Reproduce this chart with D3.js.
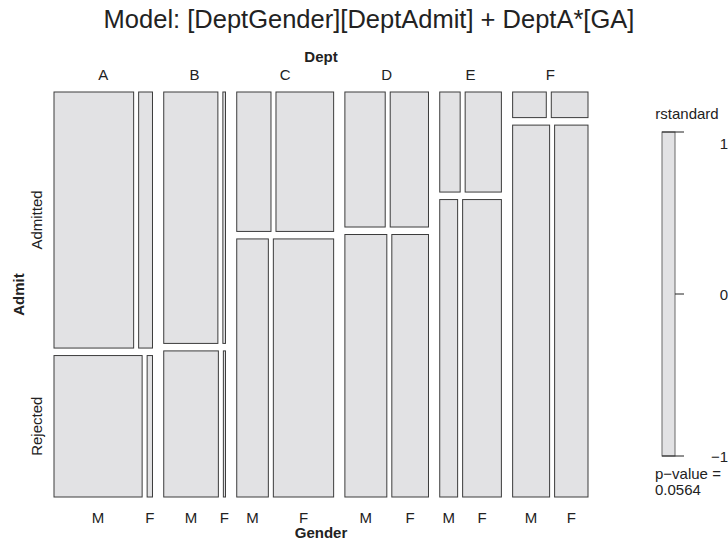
<!DOCTYPE html>
<html>
<head>
<meta charset="utf-8">
<script src="https://cdn.jsdelivr.net/npm/d3@7/dist/d3.min.js"></script>
<style>
  html, body { margin: 0; padding: 0; background: #fff; }
  svg text { font-family: "Liberation Sans", Arial, Helvetica, sans-serif; fill: #222; }
</style>
</head>
<body>
<svg id="chart" width="728" height="544"></svg>
<script>
// UC Berkeley admissions by department, admission status and gender
const depts = ["A", "B", "C", "D", "E", "F"];
const admitLevels = ["Admitted", "Rejected"];
const genders = ["M", "F"];
const admittedMale   = [512, 353, 120, 138, 53, 22];
const admittedFemale = [89, 17, 202, 131, 94, 24];
const rejectedMale   = [313, 207, 205, 279, 138, 351];
const rejectedFemale = [19, 8, 391, 244, 299, 317];
const legendTicks = [-1, 0, 1];
const legendTitle = "rstandard";
const pValueText = "0.0564";
const titleText = "Model: [DeptGender][DeptAdmit] + DeptA*[GA]";

const svg = d3.select("#chart");
const tileFill = "#e2e2e4";
const tileStroke = "#3c3c3c";

// panel geometry
const panelLeft = 54, panelRight = 588, panelTop = 92, panelBottom = 497;
const gapDept = 11.25, gapAdmit = 7.5, gapGender = 5;

const cells = depts.map((d, i) => ({
  dept: d,
  rows: [
    { admit: admitLevels[0], counts: [admittedMale[i], admittedFemale[i]] },
    { admit: admitLevels[1], counts: [rejectedMale[i], rejectedFemale[i]] }
  ]
}));
cells.forEach(c => {
  c.rows.forEach(r => r.total = d3.sum(r.counts));
  c.total = d3.sum(c.rows, r => r.total);
});
const grand = d3.sum(cells, c => c.total);

// first split: departments across the width
const xDept = d3.scaleLinear().domain([0, grand])
  .range([0, (panelRight - panelLeft) - gapDept * (depts.length - 1)]);
let cum = 0;
cells.forEach((c, i) => {
  c.x0 = panelLeft + xDept(cum) + i * gapDept;
  c.w = xDept(c.total) - xDept(0);
  cum += c.total;
});

const g = svg.append("g");

cells.forEach(c => {
  // second split: admission status down the height
  const yAdmit = d3.scaleLinear().domain([0, c.total])
    .range([panelTop, panelBottom - gapAdmit * (c.rows.length - 1)]);
  let cy = 0;
  c.rows.forEach((r, ri) => {
    r.y0 = yAdmit(cy) + ri * gapAdmit;
    r.h = yAdmit(cy + r.total) - yAdmit(cy);
    cy += r.total;
    // third split: gender across each row
    const xG = d3.scaleLinear().domain([0, r.total])
      .range([c.x0, c.x0 + c.w - gapGender * (r.counts.length - 1)]);
    let cx = 0;
    r.tiles = r.counts.map((n, gi) => {
      const t = { gender: genders[gi], x: xG(cx) + gi * gapGender, w: xG(cx + n) - xG(cx), y: r.y0, h: r.h };
      cx += n;
      return t;
    });
    g.selectAll(null).data(r.tiles).enter().append("rect")
      .attr("x", t => t.x).attr("y", t => t.y)
      .attr("width", t => t.w).attr("height", t => t.h)
      .attr("fill", tileFill).attr("stroke", tileStroke).attr("stroke-width", 1);
  });
});

// title
svg.append("text").attr("x", 369).attr("y", 28).attr("text-anchor", "middle")
  .style("font-size", "25.5px").text(titleText);

// top labels: Dept
svg.append("text").attr("x", (panelLeft + panelRight) / 2).attr("y", 62).attr("text-anchor", "middle")
  .style("font-size", "15px").style("font-weight", "bold").text("Dept");
svg.selectAll(null).data(cells).enter().append("text")
  .attr("x", c => c.x0 + c.w / 2).attr("y", 79.5).attr("text-anchor", "middle")
  .style("font-size", "15px").text(c => c.dept);

// bottom labels: Gender under the last row
const lastTiles = cells.flatMap(c => c.rows[c.rows.length - 1].tiles);
svg.selectAll(null).data(lastTiles).enter().append("text")
  .attr("x", t => t.x + t.w / 2).attr("y", 522.5).attr("text-anchor", "middle")
  .style("font-size", "15px").text(t => t.gender);
svg.append("text").attr("x", (panelLeft + panelRight) / 2).attr("y", 538).attr("text-anchor", "middle")
  .style("font-size", "15px").style("font-weight", "bold").text("Gender");

// left labels: Admit, aligned with the first department's rows
svg.selectAll(null).data(cells[0].rows).enter().append("text")
  .attr("transform", r => `translate(42,${r.y0 + r.h / 2}) rotate(-90)`)
  .attr("text-anchor", "middle").style("font-size", "15px").text(r => r.admit);
svg.append("text")
  .attr("transform", `translate(24,${(panelTop + panelBottom) / 2}) rotate(-90)`)
  .attr("text-anchor", "middle").style("font-size", "15px").style("font-weight", "bold").text("Admit");

// residual legend
const legX = 662, legW = 13;
const yLeg = d3.scaleLinear().domain([-1, 1]).range([456, 132]);
svg.append("text").attr("x", 687).attr("y", 119).attr("text-anchor", "middle")
  .style("font-size", "15px").text(legendTitle);
svg.append("rect").attr("x", legX).attr("y", yLeg(1)).attr("width", legW)
  .attr("height", yLeg(-1) - yLeg(1)).attr("fill", tileFill)
  .attr("stroke", "#6a6a6a").attr("stroke-width", 1);
svg.selectAll(null).data(legendTicks).enter().append("line")
  .attr("x1", d => d === 0 ? legX + legW : legX).attr("x2", 684)
  .attr("y1", d => yLeg(d)).attr("y2", d => yLeg(d))
  .attr("stroke", "#222").attr("stroke-width", 1);
svg.selectAll(null).data(legendTicks).enter().append("text")
  .attr("x", 728).attr("y", d => yLeg(d) + 5.5 + (d === 1 ? 11 : 0))
  .attr("text-anchor", "end").style("font-size", "15px")
  .text(d => d < 0 ? "\u2212" + Math.abs(d) : String(d));
svg.append("text").attr("x", 655).attr("y", 479).style("font-size", "15px").text("p\u2212value =");
svg.append("text").attr("x", 655).attr("y", 495).style("font-size", "15px").text(pValueText);
</script>
</body>
</html>
